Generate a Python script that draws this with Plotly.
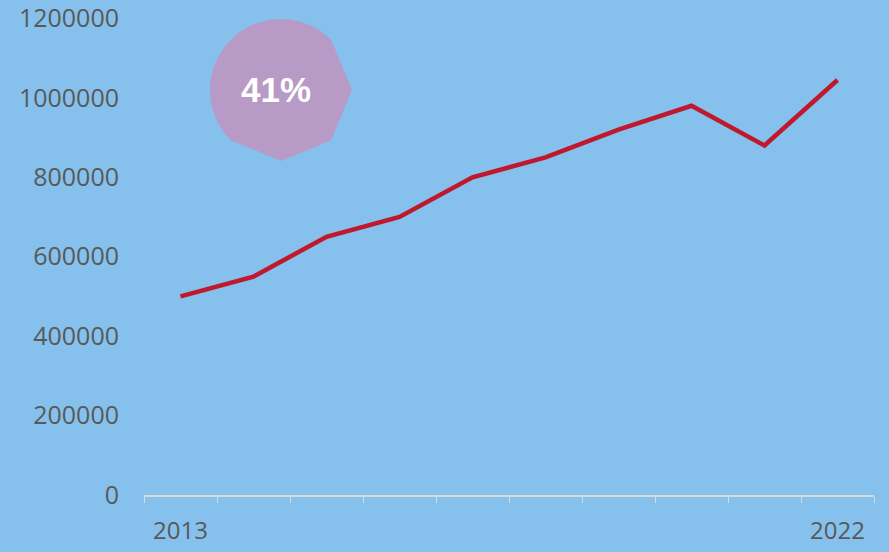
import numpy as np
import plotly.graph_objs as go

# data
years = ['2013', '2014', '2015', '2016', '2017', '2018', '2019', '2020', '2021', '2022']
values = [500000, 550000, 650000, 700000, 800000, 850000, 920000, 980000, 880000, 1045000]
shown_labels = ['2013', '', '', '', '', '', '', '', '', '2022']
y_ticks = [0, 200000, 400000, 600000, 800000, 1000000, 1200000]
badge_text = '41%'

BG = '#85C1EC'
TEXT = '#595959'
W, H = 889, 552
L, R, T, B = 144, 15, 18, 57


def to_paper(px, py):
    """pixel position -> paper coords of the plot area"""
    return (px - L) / (W - L - R), (H - B - py) / (H - T - B)


# badge outline: round on the upper-left, faceted on the lower-right
cx, cy, rad = 281, 90, 71
pts = []
for a in np.linspace(45, 225, 40):
    t = np.radians(a)
    pts.append((cx + rad * np.cos(t), cy - rad * np.sin(t)))
for a in [270, 315, 360]:
    t = np.radians(a)
    pts.append((cx + rad * np.cos(t), cy - rad * np.sin(t)))
path = ''
for i, (px, py) in enumerate(pts):
    x, y = to_paper(px, py)
    path += ('M' if i == 0 else 'L') + f'{x:.4f},{y:.4f} '
path += 'Z'

fig = go.Figure()
fig.add_trace(go.Scatter(
    x=years, y=values, mode='lines',
    line=dict(color='#C0182C', width=4.5),
    hoverinfo='skip'
))

fig.add_shape(type='path', path=path, xref='paper', yref='paper',
              fillcolor='#B89AC6', line=dict(width=0), layer='below')

ax, ay = to_paper(276, 89)
fig.add_annotation(x=ax, y=ay, xref='paper', yref='paper', text=f'<b>{badge_text}</b>',
                   xanchor='center', yanchor='middle', showarrow=False,
                   font=dict(family='Liberation Sans', size=35, color='white'))

fig.update_layout(
    width=W, height=H,
    margin=dict(l=L, r=R, t=T, b=B),
    plot_bgcolor=BG,
    paper_bgcolor=BG,
    font=dict(family='Open Sans', color=TEXT, size=24),
    showlegend=False,
    xaxis=dict(
        type='category', tickmode='array', tickvals=years, ticktext=shown_labels,
        tickson='boundaries', ticks='outside', ticklen=6, tickcolor='#D9D9D9',
        showline=True, linecolor='#D9D9D9', linewidth=2, showgrid=False,
        zeroline=False, ticklabelstandoff=13, range=[-0.5, 9.5], automargin=False
    ),
    yaxis=dict(
        range=[0, 1201000], tickvals=y_ticks, tickformat='d',
        showgrid=False, zeroline=False, showline=False,
        ticklabelstandoff=24, tickfont=dict(size=25), automargin=False
    )
)

fig.write_html("out.html", config={'displayModeBar': False},
               post_script=f"document.body.style.margin='0';document.body.style.background='{BG}';")
